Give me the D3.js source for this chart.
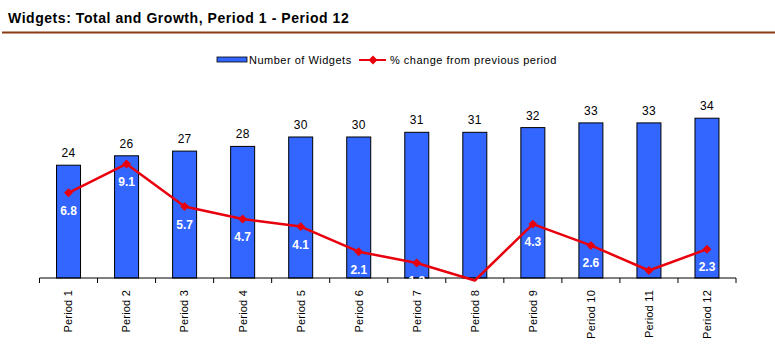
<!DOCTYPE html>
<html><head><meta charset="utf-8">
<script src="https://cdn.jsdelivr.net/npm/d3@7/dist/d3.min.js"></script>
<style>body{margin:0;background:#fff;} svg{display:block;font-family:Arial,"Liberation Sans",sans-serif;}</style>
</head><body>
<script>
const categories = ["Period 1","Period 2","Period 3","Period 4","Period 5","Period 6","Period 7","Period 8","Period 9","Period 10","Period 11","Period 12"];
const widgets = [24,26,27,28,30,30,31,31,32,33,33,34];
const growth = [6.8,9.1,5.7,4.7,4.1,2.1,1.2,-0.2,4.3,2.6,0.6,2.3];
const title = "Widgets: Total and Growth, Period 1 - Period 12";
const legendLabels = ["Number of Widgets","% change from previous period"];

const W = 775, H = 357;
const svg = d3.select("body").append("svg").attr("width", W).attr("height", H);

// title + rule
svg.append("text").attr("x", 8).attr("y", 23).attr("font-size", 14).attr("font-weight", "bold")
  .attr("letter-spacing", 0.55).attr("fill", "#000").text(title);
svg.append("line").attr("x1", 2).attr("x2", W).attr("y1", 32.5).attr("y2", 32.5)
  .attr("stroke", "#8b3a12").attr("stroke-width", 2);

const x = d3.scaleBand().domain(categories).range([39.5, 736]).padding(0);
const y0 = d3.scaleLinear().domain([0, 40]).range([278, 90]);
const y1 = d3.scaleLinear().domain([0, 15]).range([278, 90]);
const barW = 24;

svg.append("clipPath").attr("id", "plot").append("rect").attr("x", 30).attr("y", 80).attr("width", 720).attr("height", 199);
svg.append("clipPath").attr("id", "plotLine").append("rect").attr("x", 30).attr("y", 80).attr("width", 720).attr("height", 204);

// bars
svg.append("g").selectAll("rect").data(widgets).join("rect")
  .attr("x", (d, i) => x(categories[i]) + x.bandwidth() / 2 - barW / 2)
  .attr("y", d => y0(d))
  .attr("width", barW)
  .attr("height", d => y0(0) - y0(d))
  .attr("fill", "#3366ff").attr("stroke", "#000").attr("stroke-width", 1);

// bar labels
svg.append("g").selectAll("text").data(widgets).join("text")
  .attr("x", (d, i) => x(categories[i]) + x.bandwidth() / 2)
  .attr("y", d => y0(d) - 8)
  .attr("text-anchor", "middle").attr("font-size", 12).attr("letter-spacing", 0.3).attr("fill", "#000")
  .text(d => d);

// axis
const axisG = svg.append("g");
axisG.append("line").attr("x1", x.range()[0]).attr("x2", x.range()[1]).attr("y1", 278).attr("y2", 278)
  .attr("stroke", "#000").attr("stroke-width", 1);
const tickXs = categories.map(c => x(c)).concat([x.range()[1]]);
axisG.selectAll("line.tick").data(tickXs).join("line").attr("class", "tick")
  .attr("x1", d => d).attr("x2", d => d).attr("y1", 278).attr("y2", 283)
  .attr("stroke", "#000");
axisG.selectAll("text").data(categories).join("text")
  .attr("transform", d => `translate(${x(d) + x.bandwidth() / 2},290) rotate(-90)`)
  .attr("text-anchor", "end").attr("dy", "0.35em").attr("font-size", 11).attr("letter-spacing", 0.2).attr("fill", "#000")
  .text(d => d);

// line
const line = d3.line().x((d, i) => x(categories[i]) + x.bandwidth() / 2).y(d => y1(d));
const lineG = svg.append("g").attr("clip-path", "url(#plotLine)");
lineG.append("path").datum(growth).attr("d", line).attr("fill", "none")
  .attr("stroke", "#e8000c").attr("stroke-width", 2.5).attr("stroke-linejoin", "round");
const diamond = d3.symbol().type(d3.symbolSquare).size(40);
lineG.selectAll("path.mk").data(growth.map((v, i) => ({v, i})).filter(d => d.v >= 0)).join("path").attr("class", "mk")
  .attr("d", diamond)
  .attr("transform", d => `translate(${x(categories[d.i]) + x.bandwidth() / 2},${y1(d.v)}) rotate(45)`)
  .attr("fill", "#e8000c");

// growth labels (clipped at axis)
svg.append("g").attr("clip-path", "url(#plot)").selectAll("text").data(growth).join("text")
  .attr("x", (d, i) => x(categories[i]) + x.bandwidth() / 2)
  .attr("y", d => y1(d) + 22)
  .attr("text-anchor", "middle").attr("font-size", 12).attr("font-weight", "bold").attr("fill", "#fff")
  .text(d => d.toFixed(1));

// legend
const lg = svg.append("g");
lg.append("rect").attr("x", 217).attr("y", 57).attr("width", 30).attr("height", 5)
  .attr("fill", "#3366ff").attr("stroke", "#000").attr("stroke-width", 0.8);
lg.append("text").attr("x", 249).attr("y", 64).attr("font-size", 11).attr("letter-spacing", 0.5).text(legendLabels[0]);
lg.append("line").attr("x1", 359).attr("x2", 386).attr("y1", 60).attr("y2", 60)
  .attr("stroke", "#e8000c").attr("stroke-width", 2);
lg.append("path").attr("d", diamond).attr("transform", "translate(373,60) rotate(45)").attr("fill", "#e8000c");
lg.append("text").attr("x", 390).attr("y", 64).attr("font-size", 11).attr("letter-spacing", 0.5).text(legendLabels[1]);
</script>
</body></html>
